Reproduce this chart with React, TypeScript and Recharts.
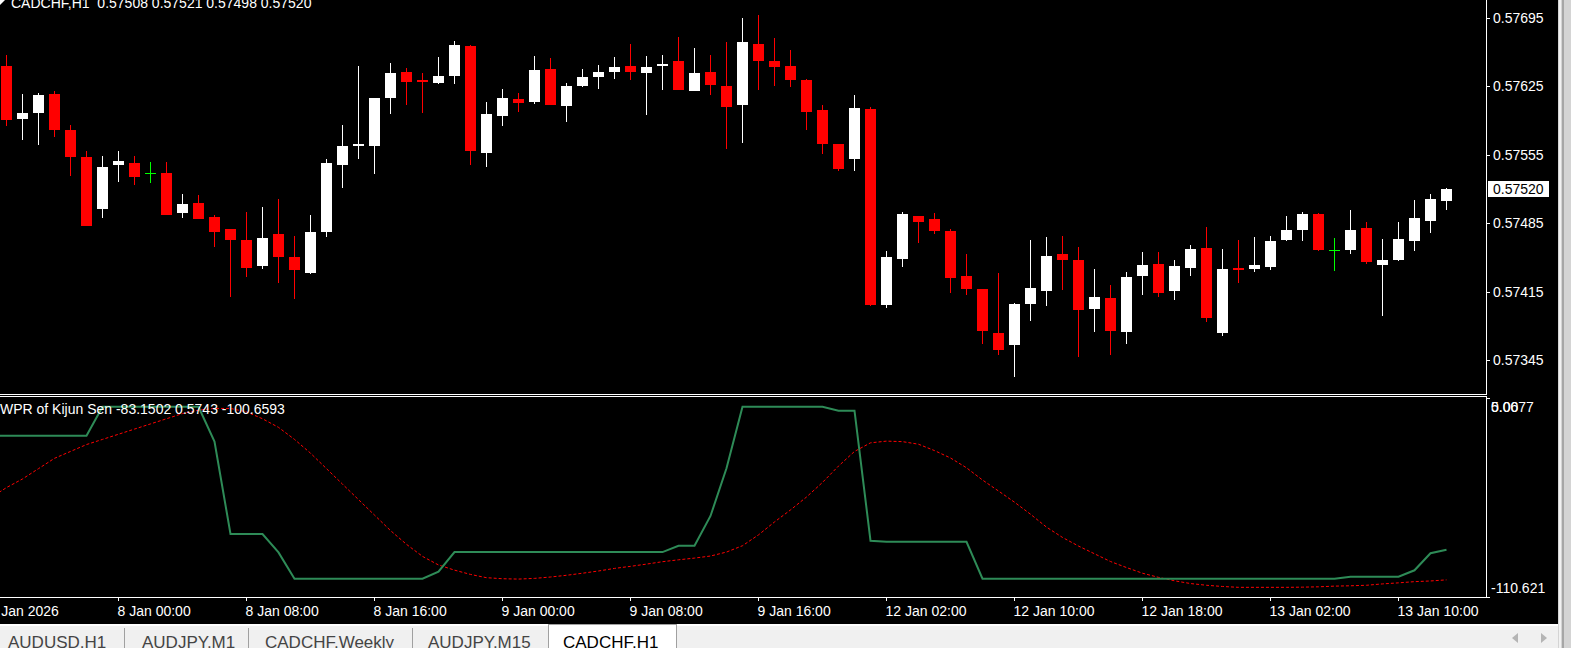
import { Bar, ComposedChart, Line, XAxis, YAxis } from "recharts";

// CADCHF H1 candles (oldest first)
const candleOpen = [
  0.57646, 0.57591, 0.57598, 0.57617, 0.5758, 0.57553, 0.57499, 0.57544, 0.57546, 0.57536,
  0.57536, 0.57495, 0.57506, 0.57491, 0.57479, 0.57468, 0.57441, 0.57474, 0.57451, 0.57434,
  0.57476, 0.57544, 0.57564, 0.57564, 0.57613, 0.57639, 0.57631, 0.57628, 0.57635, 0.57666,
  0.57557, 0.57594, 0.57612, 0.57609, 0.57642, 0.57605, 0.57625, 0.57634, 0.57639, 0.57645,
  0.57638, 0.57645, 0.57651, 0.5762, 0.57639, 0.57625, 0.57606, 0.57668, 0.57651, 0.57646,
  0.57631, 0.57601, 0.57566, 0.57551, 0.57602, 0.57401, 0.57448, 0.57492, 0.57489, 0.57477,
  0.57431, 0.57418, 0.57373, 0.57361, 0.57403, 0.57416, 0.57454, 0.57447, 0.57397, 0.57409,
  0.57374, 0.57431, 0.57443, 0.57416, 0.57439, 0.5746, 0.57373, 0.57439, 0.57438, 0.5744,
  0.57468, 0.57478, 0.57494, 0.57458, 0.57458, 0.5748, 0.57442, 0.57447, 0.57467, 0.57487,
  0.57508,
];
const candleHigh = [
  0.57657, 0.57617, 0.57618, 0.5762, 0.57585, 0.57559, 0.57554, 0.57559, 0.57554, 0.57548,
  0.57548, 0.57515, 0.57514, 0.57493, 0.57479, 0.57496, 0.57502, 0.5751, 0.57472, 0.57493,
  0.57551, 0.57585, 0.57646, 0.57613, 0.57649, 0.57643, 0.57638, 0.57655, 0.57671, 0.57667,
  0.57609, 0.57622, 0.57618, 0.57656, 0.57654, 0.57628, 0.57642, 0.57647, 0.57655, 0.57668,
  0.57656, 0.57657, 0.57675, 0.57664, 0.57657, 0.5767, 0.57694, 0.57698, 0.57674, 0.57662,
  0.57632, 0.57606, 0.57566, 0.57616, 0.57604, 0.57457, 0.57496, 0.57492, 0.57495, 0.57479,
  0.57454, 0.57418, 0.57434, 0.57404, 0.57468, 0.57471, 0.57472, 0.57461, 0.57438, 0.57422,
  0.57435, 0.57456, 0.57456, 0.57447, 0.57463, 0.57481, 0.57459, 0.57468, 0.57471, 0.57472,
  0.57492, 0.57496, 0.57495, 0.5747, 0.57498, 0.57486, 0.57469, 0.57486, 0.57509, 0.57515,
  0.57521,
];
const candleLow = [
  0.57584, 0.5757, 0.57565, 0.57573, 0.57533, 0.57482, 0.5749, 0.57527, 0.57524, 0.57526,
  0.57493, 0.5749, 0.57489, 0.57461, 0.5741, 0.5743, 0.57438, 0.57424, 0.57408, 0.57433,
  0.57471, 0.57521, 0.57551, 0.57535, 0.57597, 0.57606, 0.57598, 0.57627, 0.57627, 0.57544,
  0.57542, 0.57584, 0.57599, 0.57607, 0.57606, 0.57588, 0.57624, 0.57622, 0.57632, 0.57631,
  0.57595, 0.57621, 0.57621, 0.5762, 0.57616, 0.57561, 0.57567, 0.57621, 0.57625, 0.57624,
  0.5758, 0.57556, 0.57538, 0.57538, 0.574, 0.57398, 0.5744, 0.57465, 0.57474, 0.57414,
  0.57412, 0.57362, 0.5735, 0.57328, 0.57385, 0.574, 0.57417, 0.57348, 0.57374, 0.5735,
  0.57362, 0.57412, 0.5741, 0.57407, 0.57431, 0.57384, 0.5737, 0.57424, 0.57435, 0.57437,
  0.57467, 0.57467, 0.57457, 0.57436, 0.57454, 0.57443, 0.5739, 0.57446, 0.57457, 0.57475,
  0.57498,
];
const candleClose = [
  0.5759, 0.57598, 0.57616, 0.5758, 0.57553, 0.57482, 0.57542, 0.57549, 0.57532, 0.57536,
  0.57493, 0.57505, 0.57489, 0.57476, 0.57468, 0.57439, 0.5747, 0.57451, 0.57437, 0.57476,
  0.57546, 0.57564, 0.57566, 0.57613, 0.57638, 0.57629, 0.57629, 0.57635, 0.57667, 0.57559,
  0.57596, 0.57613, 0.57608, 0.57641, 0.57606, 0.57625, 0.57634, 0.57639, 0.57644, 0.57639,
  0.57644, 0.57648, 0.57621, 0.57638, 0.57626, 0.57604, 0.5767, 0.57651, 0.57644, 0.57631,
  0.57599, 0.57566, 0.5754, 0.57603, 0.57402, 0.5745, 0.57494, 0.57486, 0.57477, 0.57429,
  0.57418, 0.57375, 0.57356, 0.57403, 0.57419, 0.57452, 0.57447, 0.57396, 0.5741, 0.57375,
  0.5743, 0.57442, 0.57414, 0.57441, 0.57459, 0.57388, 0.57438, 0.57437, 0.57442, 0.57467,
  0.57478, 0.57494, 0.57458, 0.57458, 0.57478, 0.57445, 0.57447, 0.57469, 0.5749, 0.5751,
  0.5752,
];

// indicator buffers, one value per bar starting one bar left of the first visible candle
const wprLine = [
  -16.9, -16.9, -16.9, -16.9, -16.9, -16.9, -16.9, 0, 0, 0,
  0, 0, 0, 0, -20.3, -74, -74, -74, -84.7, -100,
  -100, -100, -100, -100, -100, -100, -100, -100, -95.9, -84.5,
  -84.5, -84.5, -84.5, -84.5, -84.5, -84.5, -84.5, -84.5, -84.5, -84.5,
  -84.5, -84.5, -84.5, -80.8, -80.8, -63.5, -35.8, 0, 0, 0,
  0, 0, 0, -2.3, -2.3, -77.9, -78.5, -78.5, -78.5, -78.5,
  -78.5, -78.5, -100, -100, -100, -100, -100, -100, -100, -100,
  -100, -100, -100, -100, -100, -100, -100, -100, -100, -100,
  -100, -100, -100, -100, -100, -98.8, -98.8, -98.8, -98.8, -95.1,
  -85.2, -83.1502,
];
const signalLine = [
  -53, -47, -42, -36, -30, -26, -22, -19, -16, -13,
  -10, -7, -4, -2, -1, -1, -3, -7, -12, -19,
  -27, -36, -45, -54, -63, -72, -80, -87, -92, -95,
  -97.5, -99.4, -100, -100.2, -99.8, -99, -98, -96.8, -95.5, -94,
  -92.8, -91.5, -90.1, -89, -88, -86.8, -84.5, -80.8, -74.5, -67,
  -60, -52.5, -44, -34.5, -26, -21, -20, -20.3, -21.8, -25.5,
  -29.8, -35.5, -42.6, -49, -55.5, -62.5, -70, -76, -81, -85.5,
  -90, -93.5, -96.8, -99.2, -101.2, -102.8, -103.8, -104.5, -105, -105,
  -105, -105, -104.9, -104.7, -104.3, -104.1, -103.8, -103, -102.4, -101.7,
  -101.3, -100.6593,
];
const kijunValue = 0.5743;

const priceTicks = [0.57695, 0.57625, 0.57555, 0.5752, 0.57485, 0.57415, 0.57345];
const wprTicks = [5.0677, 0, -110.621];
const wprTickLabels = ["5.0677", "0.00", "-110.621"];
const timeTickIndex = [-1, 7, 15, 23, 31, 39, 47, 55, 63, 71, 79, 87];
const timeTickLabels = [
  "7 Jan 2026", "8 Jan 00:00", "8 Jan 08:00", "8 Jan 16:00", "9 Jan 00:00", "9 Jan 08:00",
  "9 Jan 16:00", "12 Jan 02:00", "12 Jan 10:00", "12 Jan 18:00", "13 Jan 02:00", "13 Jan 10:00",
];
const tabNames = ["AUDUSD,H1", "AUDJPY,M1", "CADCHF,Weekly", "AUDJPY,M15", "CADCHF,H1"];

const candles = candleOpen.map((open, i) => ({
  i,
  open,
  high: candleHigh[i],
  low: candleLow[i],
  close: candleClose[i],
  range: [candleLow[i], candleHigh[i]],
}));
const indicatorRows = wprLine.map((wpr, k) => ({ i: k - 1, wpr, signal: signalLine[k] }));

const last = candles.length - 1;
const currentPrice = candleClose[last];

const FONT = '"Liberation Sans", Arial, sans-serif';
const X_DOMAIN: [number, number] = [-0.40625, 92.46875];
const PRICE_DOMAIN: [number, number] = [0.5731064, 0.5771288];
const WPR_DOMAIN: [number, number] = [-110.621, 5.0677];
const CHART_W = 1558;
const AXIS_X = 1486;

function CandleShape(props: any) {
  const { x, y, width, height, payload } = props;
  if (x == null || !payload) return null;
  const top = Math.min(y, y + height);
  const bot = Math.max(y, y + height);
  const span = payload.high - payload.low;
  const toY = (p: number) => (span === 0 ? top : top + ((payload.high - p) / span) * (bot - top));
  const cx = x + width / 2;
  const wx = Math.floor(cx) + 0.5;
  const left = Math.round(cx - 5.5);
  const o = toY(payload.open);
  const c = toY(payload.close);
  const hy = Math.round(toY(payload.high));
  const ly = Math.round(toY(payload.low));
  if (payload.close === payload.open) {
    const yy = Math.round(o) + 0.5;
    return (
      <g>
        <line x1={wx} x2={wx} y1={hy} y2={ly} stroke="#00ff00" strokeWidth={1} />
        <line x1={left} x2={left + 11} y1={yy} y2={yy} stroke="#00ff00" strokeWidth={1} />
      </g>
    );
  }
  const color = payload.close > payload.open ? "#ffffff" : "#ff0000";
  const bt = Math.round(Math.min(o, c));
  const bb = Math.round(Math.max(o, c));
  return (
    <g>
      <line x1={wx} x2={wx} y1={hy} y2={ly} stroke={color} strokeWidth={1} />
      <rect x={left} y={bt} width={11} height={Math.max(1, bb - bt)} fill={color} />
    </g>
  );
}

function PriceTick(props: any) {
  const { y, payload } = props;
  const v = payload.value as number;
  const ty = Math.round(y) + 0.5;
  if (v === currentPrice) {
    return (
      <g>
        <rect x={AXIS_X + 2} y={Math.round(y) - 8} width={61} height={16} fill="#ffffff" />
        <text x={AXIS_X + 7} y={y + 5} fill="#000000" fontSize={14} fontFamily={FONT}>
          {v.toFixed(5)}
        </text>
      </g>
    );
  }
  return (
    <g>
      <line x1={AXIS_X} x2={AXIS_X + 4} y1={ty} y2={ty} stroke="#ffffff" />
      <text x={AXIS_X + 7} y={y + 5} fill="#ffffff" fontSize={14} fontFamily={FONT}>
        {v.toFixed(5)}
      </text>
    </g>
  );
}

function WprTick(props: any) {
  const { y, payload, index } = props;
  const v = payload.value as number;
  const label = wprTickLabels[wprTicks.indexOf(v)] ?? String(v);
  let by = y + 5;
  if (index === 0) by = y + 13.7;
  if (v === WPR_DOMAIN[0]) by = y - 3.7;
  const ty = Math.round(y) + 0.5;
  return (
    <g>
      {v !== 0 && <line x1={AXIS_X} x2={AXIS_X + 4} y1={ty} y2={ty} stroke="#ffffff" />}
      <text x={AXIS_X + 5} y={by} fill="#ffffff" fontSize={14} fontFamily={FONT}>
        {label}
      </text>
    </g>
  );
}

function TimeTick(props: any) {
  const { x, payload } = props;
  const k = timeTickIndex.indexOf(payload.value);
  const tx = Math.floor(x) + 0.5;
  return (
    <g>
      <line x1={tx} x2={tx} y1={201} y2={205} stroke="#ffffff" />
      <text x={x - 1} y={219.5} fill="#ffffff" fontSize={14} fontFamily={FONT}>
        {timeTickLabels[k]}
      </text>
    </g>
  );
}

export default function App() {
  const c = candles[last];
  const header = `CADCHF,H1  ${c.open.toFixed(5)} ${c.high.toFixed(5)} ${c.low.toFixed(5)} ${c.close.toFixed(5)}`;
  const wprLabel = `WPR of Kijun Sen ${wprLine[wprLine.length - 1].toFixed(4)} ${kijunValue.toFixed(4)} ${signalLine[signalLine.length - 1].toFixed(4)}`;
  const tabX = [0, 124, 248, 412, 548, 676];
  const tabTextX = [8, 142, 265, 428, 563];

  return (
    <div
      style={{
        position: "absolute",
        left: 0,
        top: 0,
        width: 1571,
        height: 648,
        background: "#000000",
        overflow: "hidden",
        fontFamily: FONT,
      }}
    >
      <div style={{ position: "absolute", left: 0, top: 0 }}>
        <ComposedChart width={CHART_W} height={394} data={candles} margin={{ top: 0, right: 0, bottom: 0, left: 0 }}>
          <XAxis type="number" dataKey="i" domain={X_DOMAIN} allowDataOverflow hide />
          <YAxis
            orientation="right"
            width={CHART_W - AXIS_X}
            domain={PRICE_DOMAIN}
            allowDataOverflow
            ticks={priceTicks}
            interval={0}
            axisLine={false}
            tickLine={false}
            tick={<PriceTick />}
          />
          <Bar dataKey="range" barSize={11} shape={<CandleShape />} isAnimationActive={false} />
        </ComposedChart>
      </div>

      <div style={{ position: "absolute", left: 0, top: 396 }}>
        <ComposedChart width={CHART_W} height={227} data={indicatorRows} margin={{ top: 2, right: 0, bottom: 0, left: 0 }}>
          <XAxis
            type="number"
            dataKey="i"
            domain={X_DOMAIN}
            allowDataOverflow
            ticks={timeTickIndex}
            interval={0}
            height={26}
            axisLine={false}
            tickLine={false}
            tick={<TimeTick />}
          />
          <YAxis
            orientation="right"
            width={CHART_W - AXIS_X}
            domain={WPR_DOMAIN}
            allowDataOverflow
            ticks={wprTicks}
            interval={0}
            axisLine={false}
            tickLine={false}
            tick={<WprTick />}
          />
          <Line
            type="linear"
            dataKey="signal"
            stroke="#ff0000"
            strokeWidth={1}
            strokeDasharray="3 2"
            dot={false}
            isAnimationActive={false}
          />
          <Line
            type="linear"
            dataKey="wpr"
            stroke="#2e8b57"
            strokeWidth={2}
            dot={false}
            isAnimationActive={false}
          />
        </ComposedChart>
      </div>

      <svg width={1571} height={648} style={{ position: "absolute", left: 0, top: 0, pointerEvents: "none" }}>
        {/* panel frames */}
        <rect x={AXIS_X} y={0} width={1} height={395} fill="#ffffff" />
        <rect x={0} y={394} width={AXIS_X + 1} height={1} fill="#ffffff" />
        <rect x={0} y={396} width={AXIS_X + 1} height={1} fill="#ffffff" />
        <rect x={AXIS_X} y={396} width={1} height={202} fill="#ffffff" />
        <rect x={0} y={597} width={AXIS_X + 1} height={1} fill="#ffffff" />

        <polygon points="0,0 5,0 0,5" fill="#ffffff" />
        <text x={11} y={7.5} fill="#ffffff" fontSize={14} fontFamily={FONT} style={{ whiteSpace: "pre" }}>
          {header}
        </text>
        <text x={0} y={414} fill="#ffffff" fontSize={14} fontFamily={FONT} style={{ whiteSpace: "pre" }}>
          {wprLabel}
        </text>

        {/* tab bar */}
        <rect x={0} y={624} width={1558} height={2} fill="#ffffff" />
        <rect x={0} y={626} width={1558} height={22} fill="#f0f0f0" />
        {tabX.slice(1, 4).map((tx) => (
          <rect key={tx} x={tx} y={628} width={1} height={20} fill="#a0a0a0" />
        ))}
        <rect x={548} y={624} width={128} height={24} fill="#ffffff" />
        <rect x={548} y={624} width={1} height={24} fill="#a0a0a0" />
        <rect x={676} y={624} width={1} height={24} fill="#a0a0a0" />
        <rect x={548} y={624} width={129} height={1} fill="#a0a0a0" />
        {tabNames.map((name, k) => (
          <text
            key={name}
            x={tabTextX[k]}
            y={647.5}
            fill={k === tabNames.length - 1 ? "#000000" : "#444444"}
            fontSize={17}
            fontFamily={FONT}
          >
            {name}
          </text>
        ))}
        <polygon points="1518,633 1518,643 1512,638" fill="#b4b4b4" />
        <polygon points="1541,633 1541,643 1547,638" fill="#b4b4b4" />

        {/* window edge */}
        <rect x={1558} y={0} width={13} height={648} fill="#d4d4d4" />
        <rect x={1559} y={0} width={2} height={648} fill="#f2f2f2" />
        <rect x={1562} y={0} width={2} height={648} fill="#a6a6a6" />
      </svg>
    </div>
  );
}
